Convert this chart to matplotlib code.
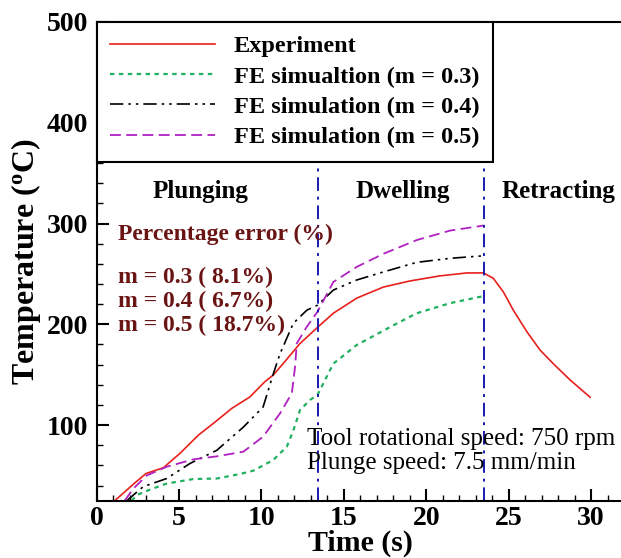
"""Temperature history: experiment vs FE simulations for different friction factors."""
import numpy as np
import matplotlib
matplotlib.use('Agg')
import matplotlib.pyplot as plt

plt.rcParams['font.family'] = ['Liberation Serif', 'DejaVu Serif']
plt.rcParams['mathtext.fontset'] = 'custom'
plt.rcParams['mathtext.rm'] = 'Liberation Serif:bold'
plt.rcParams['mathtext.it'] = 'Liberation Serif:bold'

# Experiment
t_exp = [1.1, 2.4, 3.0, 4.05, 5.06, 6.17, 7.18, 8.2, 9.3, 10.2, 10.72, 11.5, 12.34, 13.4,
         14.36, 15.78, 17.4, 19.0, 20.8, 22.46, 23.47, 24.07, 24.68, 25.28, 26.1, 26.9,
         27.7, 28.73, 29.94]
T_exp = [25, 43.8, 52, 57.7, 72, 90, 103, 116.6, 128, 143, 149.7, 164.6, 181, 197,
         211, 226, 237, 243, 248, 251, 251, 245.6, 232, 214, 192.7, 174.5,
         161, 144.7, 127.6]

# FE, m = 0.3
t_m3 = [2.13, 2.43, 3.24, 4.25, 5.87, 7.29, 8.7, 9.51, 10.72, 11.54, 11.94, 12.34, 12.95, 13.4,
        14.36, 15.78, 18.0, 19.42, 21.44, 23.47]
T_m3 = [25, 30.6, 36, 42, 46.5, 47, 51.5, 54.8, 65.4, 78.6, 95, 115, 125, 130,
        161, 179.5, 199, 211, 221, 228]

# FE, m = 0.4
t_m4 = [1.83, 2.83, 4.25, 5.67, 7.29, 8.9, 10.1, 10.72, 11.13, 11.93, 12.75, 13.4,
        14.36, 15.78, 17.4, 19.42, 21.44, 23.47]
T_m4 = [25, 39, 47, 62, 75, 98, 118, 151, 171, 201, 214, 219,
        234, 244, 252, 261.5, 265.5, 268]

# FE, m = 0.5
t_m5 = [1.7, 2.23, 3.04, 4.25, 5.87, 7.29, 8.9, 10.1, 11.13, 11.84, 12.04, 12.14, 12.75, 13.4,
        14.36, 15.78, 17.4, 19.42, 21.44, 23.47]
T_m5 = [25, 37, 50, 58.7, 66, 69, 73.6, 88.5, 111.7, 131.5, 158, 181, 197.6, 212.5,
        242, 257, 270, 283.6, 293, 298]

stage_bounds = [13.4, 23.5]
errors = ['m = 0.3 ( 8.1%)', 'm = 0.4 ( 6.7%)', 'm = 0.5 ( 18.7%)']

fig = plt.figure(figsize=(6.21, 5.58), dpi=100)
ax = fig.add_axes([0.1556, 0.1027, 0.8494, 0.8579])

ax.plot(t_exp, T_exp, '-', color='#E8201C', lw=1.2, label='Experiment')
ax.plot(t_m3, T_m3, '-', color='#20B060', lw=1.6, dashes=(2, 2),
        label='FE simualtion (m = 0.3)')
ax.plot(t_m4, T_m4, '-', color='black', lw=1.2, dashes=(8, 3, 1.5, 3, 1.5, 3),
        label='FE simulation (m = 0.4)')
ax.plot(t_m5, T_m5, '--', color='#B020C0', lw=1.3, dashes=(6, 3),
        label='FE simulation (m = 0.5)')

for xb in stage_bounds:
    ax.axvline(xb, color='#1A1AB0', lw=1.4, dashes=(7, 3, 1.5, 3))

ax.set_xlim(0, 32)
ax.set_ylim(25, 500)
ax.set_xticks([0, 5, 10, 15, 20, 25, 30])
ax.set_yticks([100, 200, 300, 400, 500])
ax.set_xticks(np.arange(0, 33, 1), minor=True)
ax.set_yticks(np.arange(40, 501, 20), minor=True)
ax.tick_params(which='major', direction='in', length=8.5, width=1.5,
               labelsize=20, pad=6, top=False, right=False)
ax.tick_params(axis='x', which='major', pad=4)
ax.tick_params(which='minor', direction='in', length=4.5, width=1.0,
               top=False, right=False)
for lab in ax.get_xticklabels() + ax.get_yticklabels():
    lab.set_fontweight('bold')
for s in ax.spines.values():
    s.set_linewidth(1.5)

ax.set_xlabel('Time (s)', fontsize=21.5, fontweight='bold', labelpad=-1)
ax.set_ylabel('Temperature ($^{\\mathrm{o}}$C)', fontsize=23, fontweight='bold', labelpad=3)

leg = ax.legend(loc='upper left', bbox_to_anchor=(0, 1), borderaxespad=0,
                fancybox=False, edgecolor='black', framealpha=1,
                prop={'weight': 'bold', 'size': 17.5}, handlelength=4.3,
                labelspacing=0.34, borderpad=0.55, handletextpad=0.8)
leg.get_frame().set_linewidth(1.5)

for txt, x in [('Plunging', 6.3), ('Dwelling', 18.6), ('Retracting', 28.0)]:
    ax.text(x, 332, txt, ha='center', va='center', fontsize=18, fontweight='bold')

dark_red = '#6A1414'
ax.text(1.3, 289, 'Percentage error (%)', ha='left', va='center',
        fontsize=17, fontweight='bold', color=dark_red)
for i, e in enumerate(errors):
    ax.text(1.3, 247 - i * 24, e, ha='left', va='center',
            fontsize=17, fontweight='bold', color=dark_red)

ax.text(12.75, 86, 'Tool rotational speed: 750 rpm', ha='left', va='center', fontsize=18)
ax.text(12.75, 62, 'Plunge speed: 7.5 mm/min', ha='left', va='center', fontsize=18)

fig.savefig('out.png', dpi=100)
